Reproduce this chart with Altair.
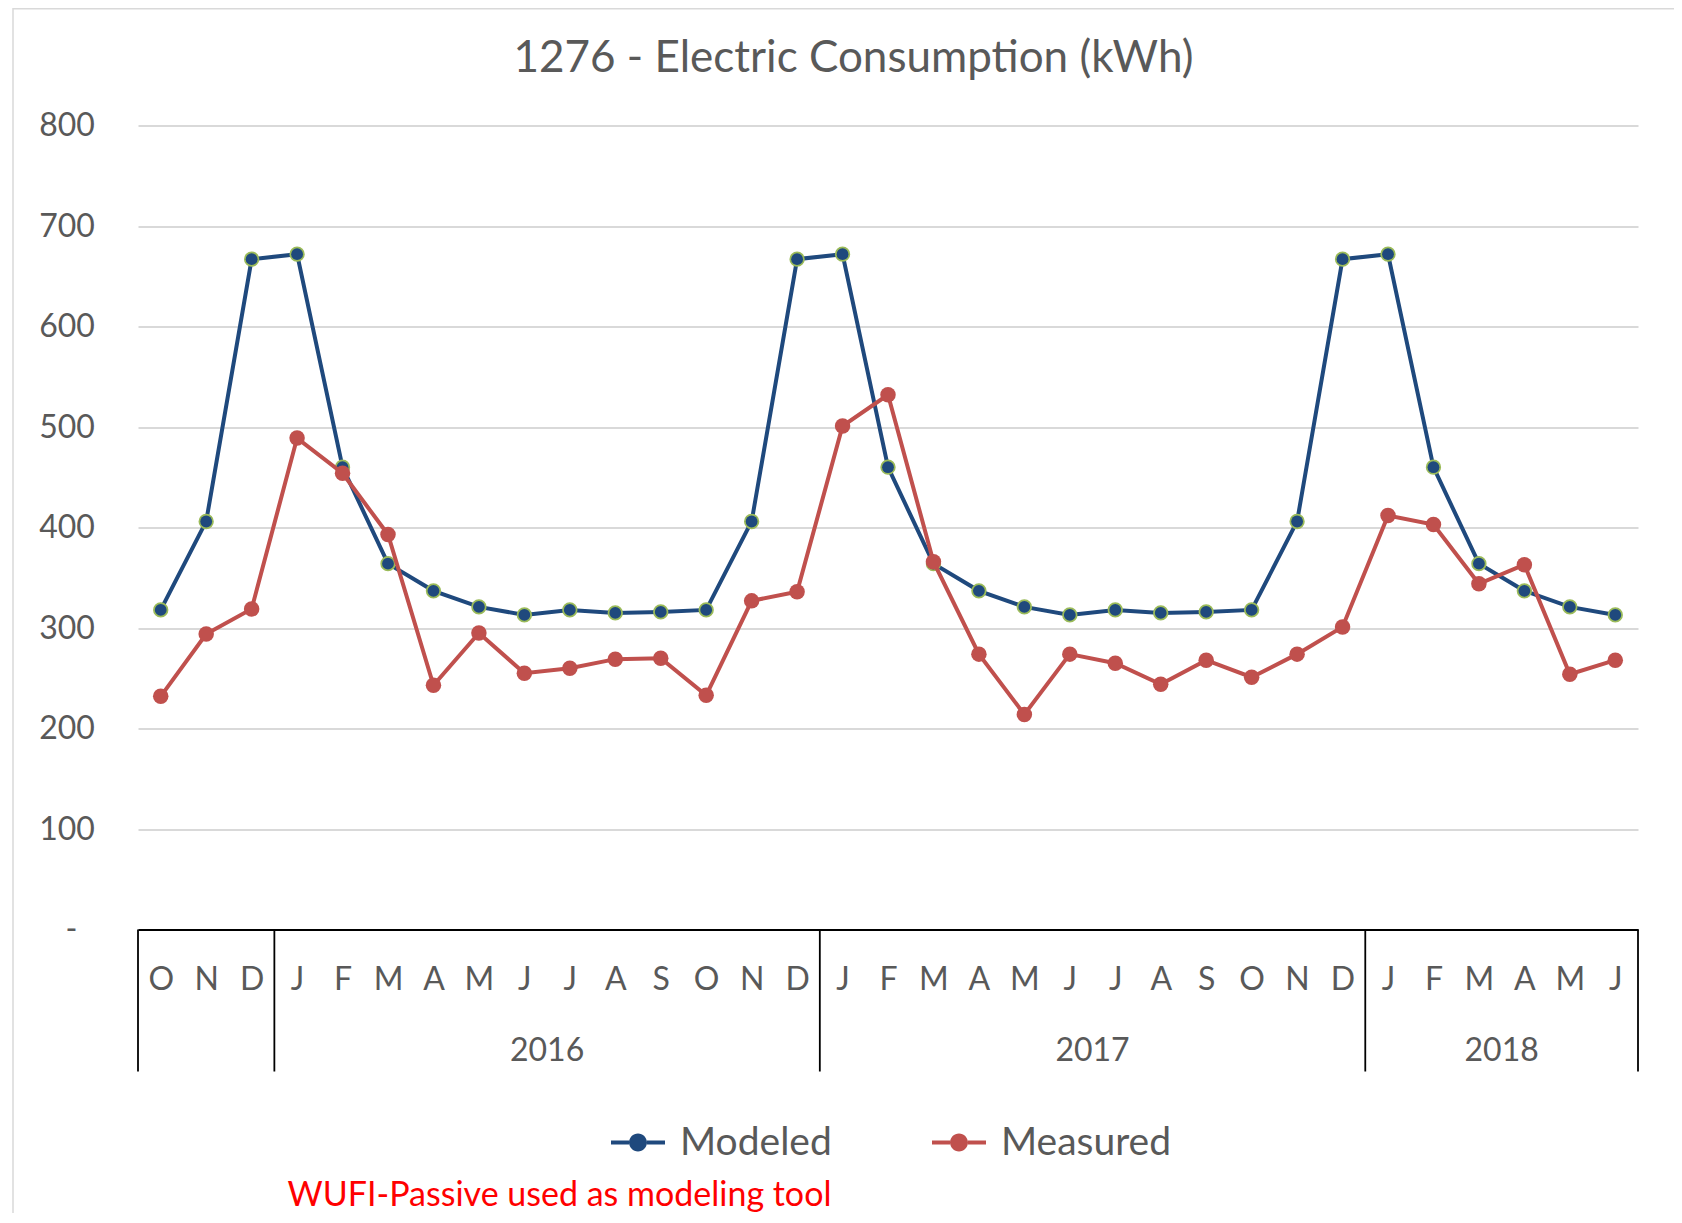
import altair as alt
import pandas as pd

# ---------------- data ----------------
title_text = "1276 - Electric Consumption (kWh)"
note_text = "WUFI-Passive used as modeling tool"

month_letters = ["O", "N", "D",
                 "J", "F", "M", "A", "M", "J", "J", "A", "S", "O", "N", "D",
                 "J", "F", "M", "A", "M", "J", "J", "A", "S", "O", "N", "D",
                 "J", "F", "M", "A", "M", "J"]
year_groups = ["", "2016", "2017", "2018"]
year_counts = [3, 12, 12, 6]

modeled = [318, 406, 667,
           672, 460, 364, 337, 321, 313, 318, 315, 316, 318, 406, 667,
           672, 460, 364, 337, 321, 313, 318, 315, 316, 318, 406, 667,
           672, 460, 364, 337, 321, 313]
measured = [232, 294, 319,
            489, 454, 393, 243, 295, 255, 260, 269, 270, 233, 327, 336,
            501, 532, 366, 274, 214, 274, 265, 244, 268, 251, 274, 301,
            412, 403, 344, 363, 254, 268]

series_names = ["Modeled", "Measured"]
series_colors = ["#1F497D", "#C0504D"]
y_ticks = [0, 100, 200, 300, 400, 500, 600, 700, 800]

# ---------------- tables ----------------
n = len(month_letters)
idx = list(range(n))
df = pd.DataFrame({
    "idx": idx * 2,
    "series": [series_names[0]] * n + [series_names[1]] * n,
    "value": modeled + measured,
})

bounds = [-0.5]
for c in year_counts:
    bounds.append(bounds[-1] + c)
div_df = pd.DataFrame({"pos": bounds})
year_df = pd.DataFrame({
    "year": year_groups,
    "pos": [(bounds[i] + bounds[i + 1]) / 2 for i in range(len(year_groups))],
})
year_df = year_df[year_df["year"] != ""]
note_df = pd.DataFrame({"note": [note_text]})

# ---------------- style ----------------
W, H = 1500, 804
FONT = "Lato"
GREY = "#595959"
FRAME = "#D9D9D9"

xs = alt.Scale(domain=[-0.5, n - 0.5], nice=False, zero=False)
ys = alt.Scale(domain=[0, 800], nice=False, zero=True)

letters_js = "[" + ",".join("'%s'" % m for m in month_letters) + "]"
x_axis = alt.Axis(values=idx, labelExpr=letters_js + "[datum.value]", title=None,
                  ticks=False, tickSize=0, grid=False, domainColor="#000000",
                  domainWidth=1.8, labelFont=FONT, labelFontSize=32, labelColor=GREY,
                  labelPadding=35, labelOverlap=False, labelFlush=False)
y_axis = alt.Axis(values=y_ticks,
                  labelExpr="datum.value == 0 ? '-' : format(datum.value, 'd')",
                  title=None, ticks=False, domain=False, gridColor=FRAME, gridWidth=1.8,
                  labelFont=FONT, labelFontSize=32, labelColor=GREY,
                  labelPadding={"condition": {"test": "datum.value == 0", "value": 61},
                                "value": 43.6})

X = alt.X("idx:Q", scale=xs, axis=x_axis)
Y = alt.Y("value:Q", scale=ys, axis=y_axis)

legend_symbol = ("M-1,-0.075L-0.33,-0.075L-0.33,0.075L-1,0.075Z "
                 "M0.33,-0.075L1,-0.075L1,0.075L0.33,0.075Z "
                 "M-0.33,0A0.33,0.33,0,1,0,0.33,0A0.33,0.33,0,1,0,-0.33,0Z")
color_enc = alt.Color(
    "series:N",
    scale=alt.Scale(domain=series_names, range=series_colors),
    legend=alt.Legend(title=None, orient="none", legendX=473, legendY=990,
                      direction="horizontal", symbolType=legend_symbol, symbolSize=2916,
                      symbolStrokeWidth=0, symbolOpacity=1, labelFont=FONT,
                      labelFontSize=39, labelColor=GREY, labelOffset=15,
                      columnPadding=100, padding=0, labelLimit=0),
)

base = alt.Chart(df)

mod_line = base.transform_filter(alt.datum.series == series_names[0]).mark_line(
    color=series_colors[0], strokeWidth=4).encode(x=X, y=Y)
mod_ring = base.transform_filter(alt.datum.series == series_names[0]).mark_point(
    filled=True, opacity=1, size=235, color="#9BBB59", strokeWidth=0).encode(x=X, y=Y)
mod_pts = base.transform_filter(alt.datum.series == series_names[0]).mark_point(
    filled=True, opacity=1, size=140, strokeWidth=0).encode(x=X, y=Y, color=color_enc)
mea_line = base.transform_filter(alt.datum.series == series_names[1]).mark_line(
    color=series_colors[1], strokeWidth=4).encode(x=X, y=Y)
mea_pts = base.transform_filter(alt.datum.series == series_names[1]).mark_point(
    filled=True, opacity=1, size=240, strokeWidth=0).encode(x=X, y=Y, color=color_enc)

dividers = alt.Chart(div_df).mark_rule(color="#000000", strokeWidth=1.8).encode(
    x=alt.X("pos:Q", scale=xs, axis=x_axis), y=alt.value(H), y2=alt.value(H + 142))
years = alt.Chart(year_df).mark_text(font=FONT, fontSize=32, color=GREY,
                                     baseline="alphabetic", align="center").encode(
    x=alt.X("pos:Q", scale=xs, axis=x_axis), y=alt.value(H + 131.5), text="year:N")
note = alt.Chart(note_df).mark_text(font=FONT, fontSize=34, color="#FF0000",
                                    baseline="middle", align="left").encode(
    x=alt.value(149.6), y=alt.value(1070), text="note:N")

# chart-area frame (left and top edges of the surrounding box)
frame_left = alt.Chart(note_df).mark_rule(color=FRAME, strokeWidth=1.5).encode(
    x=alt.value(-125), y=alt.value(-117.5), y2=alt.value(H + 290))
frame_top = alt.Chart(note_df).mark_rule(color=FRAME, strokeWidth=1.5).encode(
    x=alt.value(-125), x2=alt.value(W + 60), y=alt.value(-116.8))

chart = alt.layer(frame_left, frame_top, mod_line, mod_ring, mod_pts, mea_line, mea_pts,
                  dividers, years, note).properties(
    width=W, height=H,
    padding={"left": 130, "top": 117.5, "right": 36, "bottom": 283.5},
    autosize=alt.AutoSizeParams(type="none"),
    background="#FFFFFF",
    title=alt.TitleParams(title_text, font=FONT, fontSize=44, fontWeight="normal",
                          color=GREY, anchor="middle", dx=-34.5, offset=-108.5,
                          baseline="alphabetic"),
).configure_view(stroke=None)

chart.save("out.html", embed_options={"renderer": "svg", "actions": False})
